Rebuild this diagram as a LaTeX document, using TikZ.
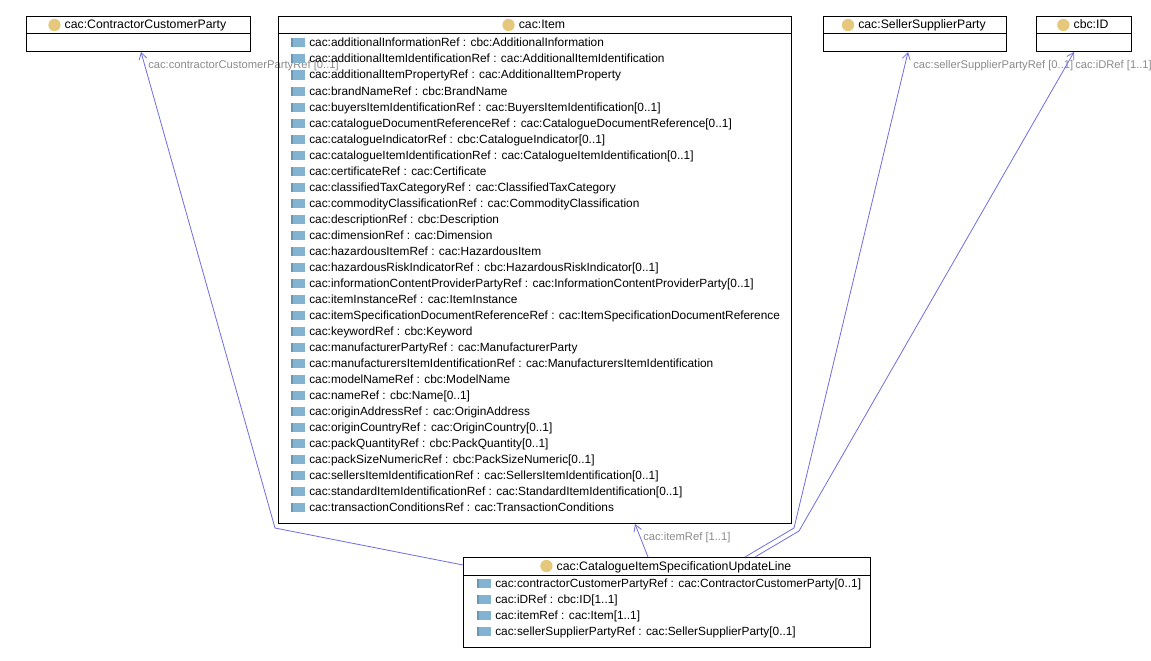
\documentclass[tikz,border=0pt]{standalone}
\usepackage{fontspec}
\setmainfont{Liberation Sans}
\usetikzlibrary{calc,arrows.meta}

\definecolor{linkblue}{RGB}{110,110,228}
\definecolor{labelgray}{RGB}{140,140,140}
\definecolor{classdot}{RGB}{230,200,125}
\definecolor{attrfill}{RGB}{130,180,210}
\definecolor{attredge}{RGB}{105,150,180}

\tikzset{
  classbox/.style={draw=black, line width=0.75pt, inner sep=0pt, anchor=north west},
  classtitle/.style={inner sep=0pt, anchor=base, font=\fontsize{9.2}{11}\selectfont},
  attrtext/.style={inner sep=0pt, anchor=base west, font=\fontsize{8.9}{11}\selectfont},
  linklabel/.style={inner sep=0pt, anchor=base west, text=labelgray, font=\fontsize{8.4}{10}\selectfont},
  link/.style={draw=linkblue, line width=0.6pt, -{Straight Barb[length=5pt,width=6pt,line width=0.6pt]}},
}

% class box: name, left, top, width, height, title
\newcommand{\umlclass}[6]{%
  \node[classbox, minimum width=#4*0.75pt, minimum height=#5*0.75pt] (#1) at (#2,#3) {};
  \draw[line width=0.75pt] ($(#1.north west)+(0,18)$) -- ($(#1.north east)+(0,18)$);
  \node[classtitle] (#1-title) at ($(#1.north)+(7,13)$) {#6};
  \fill[classdot] ($(#1-title.base west)+(-10,-4)$) circle (4.6pt);
}

% attribute row: node name, left, centre line, text
\newcommand{\umlattr}[4]{%
  \fill[attrfill] ({#2},{#3-4.5}) rectangle ({#2+14},{#3+4.5});
  \fill[attredge] ({#2},{#3-4.5}) rectangle ({#2+2},{#3+4.5});
  \node[attrtext] (#1) at ({#2+18},{#3+4}) {#4};
}

\begin{document}
\begin{tikzpicture}[x=0.75pt,y=-0.75pt]
\useasboundingbox (0,0) rectangle (1151,660);
\fill[white] (0,0) rectangle (1151,660);

% association end labels
\node[linklabel] (lab-ccp) at (148,69) {cac:contractorCustomerPartyRef [0..1]};
\node[linklabel] (lab-item) at (643,540) {cac:itemRef [1..1]};
\node[linklabel] (lab-ssp) at (913,69) {cac:sellerSupplierPartyRef [0..1]};
\node[linklabel] (lab-id) at (1075,69) {cac:iDRef [1..1]};

% classes
\umlclass{ccp}{26}{16}{224}{35}{cac:ContractorCustomerParty}
\umlclass{item}{278}{16}{513}{507}{cac:Item}
\umlclass{ssp}{823}{16}{183}{35}{cac:SellerSupplierParty}
\umlclass{id}{1036}{16}{95}{35}{cbc:ID}
\umlclass{upd}{463}{557}{407}{90}{cac:CatalogueItemSpecificationUpdateLine}

% attributes of cac:Item
\foreach \t [count=\i] in {
  cac:additionalInformationRef : cbc:AdditionalInformation,
  cac:additionalItemIdentificationRef : cac:AdditionalItemIdentification,
  cac:additionalItemPropertyRef : cac:AdditionalItemProperty,
  cac:brandNameRef : cbc:BrandName,
  cac:buyersItemIdentificationRef : cac:BuyersItemIdentification[0..1],
  cac:catalogueDocumentReferenceRef : cac:CatalogueDocumentReference[0..1],
  cac:catalogueIndicatorRef : cbc:CatalogueIndicator[0..1],
  cac:catalogueItemIdentificationRef : cac:CatalogueItemIdentification[0..1],
  cac:certificateRef : cac:Certificate,
  cac:classifiedTaxCategoryRef : cac:ClassifiedTaxCategory,
  cac:commodityClassificationRef : cac:CommodityClassification,
  cac:descriptionRef : cbc:Description,
  cac:dimensionRef : cac:Dimension,
  cac:hazardousItemRef : cac:HazardousItem,
  cac:hazardousRiskIndicatorRef : cbc:HazardousRiskIndicator[0..1],
  cac:informationContentProviderPartyRef : cac:InformationContentProviderParty[0..1],
  cac:itemInstanceRef : cac:ItemInstance,
  cac:itemSpecificationDocumentReferenceRef : cac:ItemSpecificationDocumentReference,
  cac:keywordRef : cbc:Keyword,
  cac:manufacturerPartyRef : cac:ManufacturerParty,
  cac:manufacturersItemIdentificationRef : cac:ManufacturersItemIdentification,
  cac:modelNameRef : cbc:ModelName,
  cac:nameRef : cbc:Name[0..1],
  cac:originAddressRef : cac:OriginAddress,
  cac:originCountryRef : cac:OriginCountry[0..1],
  cac:packQuantityRef : cbc:PackQuantity[0..1],
  cac:packSizeNumericRef : cbc:PackSizeNumeric[0..1],
  cac:sellersItemIdentificationRef : cac:SellersItemIdentification[0..1],
  cac:standardItemIdentificationRef : cac:StandardItemIdentification[0..1],
  cac:transactionConditionsRef : cac:TransactionConditions}
{
  \umlattr{item-r\i}{291}{43+16*(\i-1)}{\t}
}

% attributes of cac:CatalogueItemSpecificationUpdateLine
\foreach \t [count=\i] in {
  cac:contractorCustomerPartyRef : cac:ContractorCustomerParty[0..1],
  cac:iDRef : cbc:ID[1..1],
  cac:itemRef : cac:Item[1..1],
  cac:sellerSupplierPartyRef : cac:SellerSupplierParty[0..1]}
{
  \umlattr{upd-r\i}{477}{583+16*(\i-1)}{\t}
}

% associations
\coordinate (bend-ccp) at (275,528);
\coordinate (bend-ssp) at (794,528);
\coordinate (bend-id) at (799,531);
\draw[link] ($(upd.north west)+(0,8)$) -- (bend-ccp) -- ($(ccp.south west)+(115,0)$);
\draw[link] ($(upd.north west)+(185,0)$) -- ($(item.south west)+(357,0)$);
\draw[link] ($(upd.north west)+(282,0)$) -- (bend-ssp) -- ($(ssp.south west)+(85,0)$);
\draw[link] ($(upd.north west)+(292,0)$) -- (bend-id) -- ($(id.south west)+(38,0)$);
\end{tikzpicture}
\end{document}
